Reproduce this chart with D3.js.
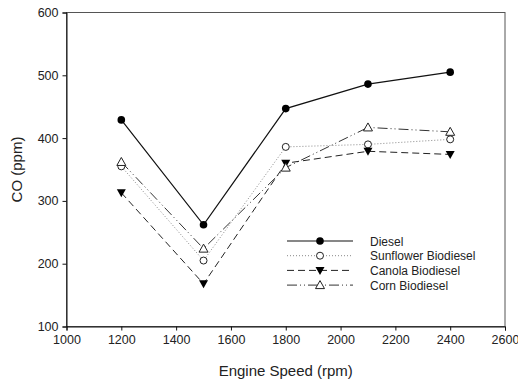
<!DOCTYPE html>
<html>
<head>
<meta charset="utf-8">
<script src="https://cdn.jsdelivr.net/npm/d3@7"></script>
<style>
  body { margin: 0; background: #fff; }
  svg { font-family: "Liberation Sans", Arial, sans-serif; }
</style>
</head>
<body>
<svg id="Chart"></svg>
<script>
// data
const speeds = [1200, 1500, 1800, 2100, 2400];
const diesel = [429, 262, 447, 486, 505];
const sunflower = [355, 205, 386, 390, 398];
const canola = [313, 168, 360, 379, 374];
const corn = [362, 224, 353, 417, 410];
const seriesNames = ['Diesel', 'Sunflower Biodiesel', 'Canola Biodiesel', 'Corn Biodiesel'];
const xTicks = [1000, 1200, 1400, 1600, 1800, 2000, 2200, 2400, 2600];
const yTicks = [100, 200, 300, 400, 500, 600];

const W = 518, H = 381;
const margin = { top: 12.5, right: 13, bottom: 54.5, left: 66.5 };
const width = W - margin.left - margin.right;
const height = H - margin.top - margin.bottom;

const svg = d3.select('#Chart').attr('width', W).attr('height', H);
const g = svg.append('g').attr('transform', 'translate(' + margin.left + ',' + margin.top + ')');

const x = d3.scaleLinear().domain([1000, 2600]).range([0, width]);
const y = d3.scaleLinear().domain([100, 600]).range([height, 0]);

const styles = [
  { values: diesel, dash: null, color: '#111', sw: 1.2, marker: 'circleFill' },
  { values: sunflower, dash: '1,2', color: '#888', sw: 1, marker: 'circleOpen' },
  { values: canola, dash: '7,4', color: '#222', sw: 1, marker: 'triDown' },
  { values: corn, dash: '10,3,1,3,1,3', color: '#333', sw: 1, marker: 'triUp' }
];

// frame
g.append('rect').attr('width', width).attr('height', height)
  .attr('fill', 'none').attr('stroke', '#555').attr('stroke-width', 1);

// axes
const xAxis = g.append('g').attr('transform', 'translate(0,' + height + ')')
  .call(d3.axisBottom(x).tickValues(xTicks).tickSize(4).tickPadding(5).tickFormat(d3.format('d')));
const yAxis = g.append('g')
  .call(d3.axisLeft(y).tickValues(yTicks).tickSize(4).tickPadding(4).tickFormat(d3.format('d')));
[xAxis, yAxis].forEach(a => {
  a.select('.domain').attr('stroke', '#111');
  a.selectAll('.tick line').attr('stroke', '#111');
  a.selectAll('.tick text').attr('fill', '#222').style('font-size', '12.5px')
    .style('font-family', '"Liberation Sans", Arial, sans-serif');
});

svg.append('text')
  .attr('x', margin.left + width / 2).attr('y', 376)
  .attr('text-anchor', 'middle').attr('fill', '#222')
  .style('font-size', '15px').text('Engine Speed (rpm)');
svg.append('text')
  .attr('transform', 'translate(22,' + (margin.top + height / 2) + ') rotate(-90)')
  .attr('text-anchor', 'middle').attr('fill', '#222')
  .style('font-size', '15px').text('CO (ppm)');

function drawMarker(sel, type, cx, cy) {
  if (type === 'circleFill') {
    sel.append('circle').attr('cx', cx).attr('cy', cy).attr('r', 3.8).attr('fill', '#000');
  } else if (type === 'circleOpen') {
    sel.append('circle').attr('cx', cx).attr('cy', cy).attr('r', 3.5)
      .attr('fill', '#fff').attr('stroke', '#222').attr('stroke-width', 1);
  } else if (type === 'triDown') {
    sel.append('path').attr('d', `M${cx - 4.5},${cy - 3.5}L${cx + 4.5},${cy - 3.5}L${cx},${cy + 4.5}Z`)
      .attr('fill', '#000');
  } else {
    sel.append('path').attr('d', `M${cx - 4.5},${cy + 3.5}L${cx + 4.5},${cy + 3.5}L${cx},${cy - 4.5}Z`)
      .attr('fill', '#fff').attr('stroke', '#222').attr('stroke-width', 1);
  }
}

const line = d3.line().x((d, i) => x(speeds[i])).y(d => y(d));

styles.forEach(s => {
  g.append('path').datum(s.values)
    .attr('d', line)
    .attr('fill', 'none')
    .attr('stroke', s.color)
    .attr('stroke-width', s.sw)
    .attr('stroke-dasharray', s.dash);
});
styles.forEach(s => {
  const mg = g.append('g');
  s.values.forEach((v, i) => drawMarker(mg, s.marker, x(speeds[i]), y(v)));
});

// legend
const legend = svg.append('g').attr('transform', 'translate(287,241)');
seriesNames.forEach((name, i) => {
  const s = styles[i];
  const row = legend.append('g').attr('transform', 'translate(0,' + (i * 14.7) + ')');
  row.append('line').attr('x1', 0).attr('x2', 66).attr('y1', 0).attr('y2', 0)
    .attr('stroke', s.color).attr('stroke-width', s.sw).attr('stroke-dasharray', s.dash);
  drawMarker(row, s.marker, 33, 0);
  row.append('text').attr('x', 83).attr('y', 4.5).attr('fill', '#222')
    .style('font-size', '12px').text(name);
});
</script>
</body>
</html>
